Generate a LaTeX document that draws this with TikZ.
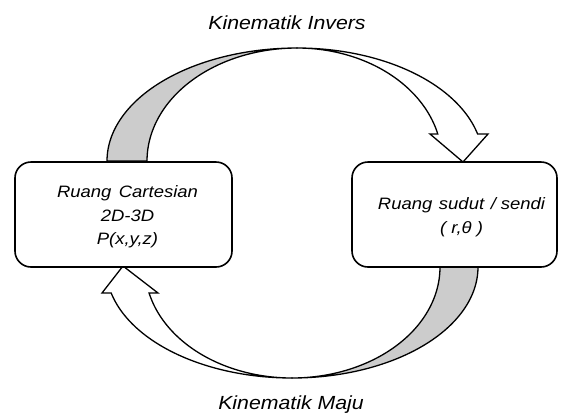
\documentclass[tikz,border=0pt]{standalone}
\usepackage{fontspec}
\setmainfont[FakeStretch=1.12]{Liberation Sans}
\begin{document}
\begin{tikzpicture}[x=1pt,y=-1pt,
  arrowline/.style={line width=1.3pt, line join=miter, draw=black},
  boxstyle/.style={draw=black, line width=1.6pt, rounded corners=16pt, fill=white, inner sep=0pt},
  boxtext/.style={font=\fontsize{16.5}{23.5}\selectfont\itshape, align=center, inner sep=0pt},
  labeltext/.style={font=\fontsize{19}{23}\selectfont\itshape, inner sep=0pt, anchor=base}]
\useasboundingbox (0,0) rectangle (561,416);

% top arrow (Kinematik Invers): gray back band, white front band with head
\filldraw[arrowline, fill=gray!40]
  plot[domain=180:90, samples=60] ({297+190*cos(\x)}, {161-113*sin(\x)})
  -- plot[domain=90:180, samples=60] ({297+150*cos(\x)}, {161-113*sin(\x)}) -- cycle;
\filldraw[arrowline, fill=white]
  plot[domain=90:13.8, samples=60] ({297+186*cos(\x)}, {161-113*sin(\x)})
  -- (488,134) -- (463,162) -- (430,134)
  -- plot[domain=13.8:90, samples=60] ({297+145*cos(\x)}, {161-113*sin(\x)}) -- cycle;

% bottom arrow (Kinematik Maju)
\filldraw[arrowline, fill=gray!40]
  plot[domain=0:90, samples=60] ({292+186*cos(\x)}, {267+111*sin(\x)})
  -- plot[domain=90:0, samples=60] ({292+148*cos(\x)}, {267+111*sin(\x)}) -- cycle;
\filldraw[arrowline, fill=white]
  plot[domain=90:166.45, samples=60] ({292+186*cos(\x)}, {267+111*sin(\x)})
  -- (102,293) -- (123,266) -- (158,293)
  -- plot[domain=166.45:90, samples=60] ({292+147*cos(\x)}, {267+111*sin(\x)}) -- cycle;

% boxes
\node[boxstyle, minimum width=217pt, minimum height=105pt] (cart) at (123.5,214.5) {};
\node[boxstyle, minimum width=205pt, minimum height=105pt] (sendi) at (454.5,214.5) {};

\node[boxtext] (carttext) at (127.5,217) {Ruang\hspace{0.45em}Cartesian\\2D-3D\\P(x,y,z)};
\node[boxtext] (senditext) at (461.5,217) {Ruang\hspace{0.4em}sudut\hspace{0.4em}/\hspace{0.3em}sendi\\( r,θ )};

\node[labeltext] (inv) at (287,29) {Kinematik Invers};
\node[labeltext] (maju) at (291,409) {Kinematik Maju};
\end{tikzpicture}
\end{document}
